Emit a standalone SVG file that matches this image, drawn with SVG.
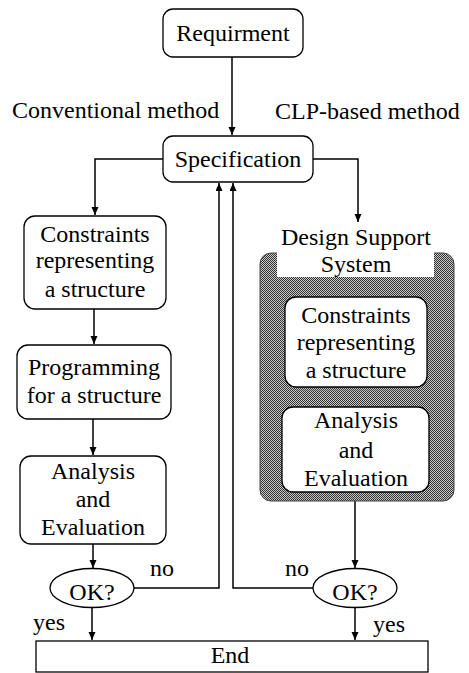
<svg xmlns="http://www.w3.org/2000/svg" width="469" height="673" viewBox="0 0 469 673">
<style>
text{font-family:"Liberation Serif",Tinos,"Times New Roman","DejaVu Serif","Noto Serif",serif;font-size:24px;fill:#000}
.c{text-anchor:middle}
.box{fill:#fff;stroke:#000;stroke-width:1.3}
.ln{fill:none;stroke:#000;stroke-width:1.5}
</style>
<defs>
<marker id="ah" markerUnits="userSpaceOnUse" markerWidth="8" markerHeight="12" refX="8" refY="3.5" orient="auto">
<path d="M0,0 L8,3.5 L0,7 Z" fill="#000"/>
</marker>
<pattern id="dots" patternUnits="userSpaceOnUse" width="2" height="2">
<rect width="2" height="2" fill="#c8c8c8"/>
<rect width="1" height="1" fill="#333"/>
<rect x="1" y="1" width="1" height="1" fill="#333"/>
</pattern>
</defs>
<g id="connectors">
<path class="ln" d="M232,57 V135" marker-end="url(#ah)"/>
<path class="ln" d="M163,159 H95 V215" marker-end="url(#ah)"/>
<path class="ln" d="M94,309 V344" marker-end="url(#ah)"/>
<path class="ln" d="M93,419 V455" marker-end="url(#ah)"/>
<path class="ln" d="M93,544 V568" marker-end="url(#ah)"/>
<path class="ln" d="M92,608 V640" marker-end="url(#ah)"/>
<path class="ln" d="M134,588 H219 V183" marker-end="url(#ah)"/>
<path class="ln" d="M313,588 H233 V183" marker-end="url(#ah)"/>
<path class="ln" d="M313,159 H358 V222" marker-end="url(#ah)"/>
<path class="ln" d="M355,501 V568" marker-end="url(#ah)"/>
<path class="ln" d="M355,608 V640" marker-end="url(#ah)"/>
</g>
<g id="requirment">
<rect class="box" x="163" y="9" width="140" height="48" rx="10"/>
<text class="c" x="233" y="41" font-family="Liberation Serif, serif">Requirment</text>
</g>
<g id="labels">
<text x="12" y="118">Conventional method</text>
<text x="275" y="119">CLP-based method</text>
<text x="150" y="576">no</text>
<text x="285" y="576">no</text>
<text x="33" y="630">yes</text>
<text x="373" y="632">yes</text>
</g>
<g id="specification">
<rect class="box" x="163" y="136" width="150" height="46" rx="10"/>
<text class="c" x="238" y="167">Specification</text>
</g>
<g id="constraints-left">
<rect class="box" x="24" y="216" width="142" height="93" rx="11"/>
<text class="c" x="95" y="242">Constraints</text>
<text class="c" x="95" y="268">representing</text>
<text class="c" x="95" y="297">a structure</text>
</g>
<g id="programming">
<rect class="box" x="17" y="345" width="154" height="74" rx="11"/>
<text class="c" x="94" y="375">Programming</text>
<text class="c" x="94" y="403">for a structure</text>
</g>
<g id="analysis-left">
<rect class="box" x="20" y="456" width="146" height="88" rx="11"/>
<text class="c" x="93" y="479">Analysis</text>
<text class="c" x="93" y="507">and</text>
<text class="c" x="93" y="535">Evaluation</text>
</g>
<g id="ok-left">
<ellipse class="box" cx="92" cy="588" rx="42" ry="19.5"/>
<text class="c" x="92" y="600">OK?</text>
</g>
<g id="design-support-system">
<rect x="260" y="253" width="194" height="248" rx="11" fill="url(#dots)" stroke="#444" stroke-width="1"/>
<rect x="277" y="250" width="157" height="27" fill="#fff"/>
<text class="c" x="356" y="245">Design Support</text>
<text class="c" x="356" y="272">System</text>
</g>
<g id="constraints-right">
<rect class="box" x="285" y="297" width="142" height="90" rx="11"/>
<text class="c" x="356" y="323">Constraints</text>
<text class="c" x="356" y="350">representing</text>
<text class="c" x="356" y="378">a structure</text>
</g>
<g id="analysis-right">
<rect class="box" x="282" y="407" width="147" height="85" rx="11"/>
<text class="c" x="356" y="428">Analysis</text>
<text class="c" x="356" y="458">and</text>
<text class="c" x="356" y="486">Evaluation</text>
</g>
<g id="ok-right">
<ellipse class="box" cx="355" cy="588" rx="42" ry="19.5"/>
<text class="c" x="355" y="600">OK?</text>
</g>
<g id="end">
<rect class="box" x="36" y="641" width="392" height="31"/>
<text class="c" x="230" y="663">End</text>
</g>
</svg>
